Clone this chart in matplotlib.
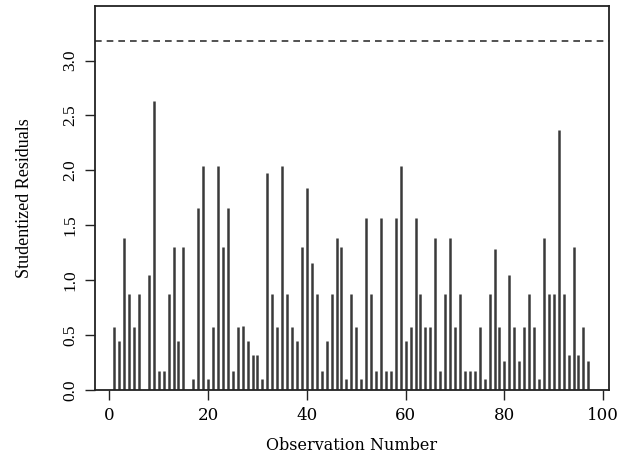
import matplotlib
matplotlib.use("Agg")
import matplotlib.pyplot as plt
import numpy as np

obs = list(range(1, 98))
resid = [0.57, 0.45, 1.38, 0.87, 0.57, 0.87, 0.00, 1.05, 2.63, 0.17,
         0.17, 0.87, 1.30, 0.45, 1.30, 0.00, 0.10, 1.66, 2.04, 0.10,
         0.57, 2.04, 1.30, 1.66, 0.17, 0.57, 0.58, 0.45, 0.32, 0.32,
         0.10, 1.98, 0.87, 0.57, 2.04, 0.87, 0.57, 0.45, 1.30, 1.84,
         1.16, 0.87, 0.17, 0.45, 0.87, 1.38, 1.30, 0.10, 0.87, 0.57,
         0.10, 1.57, 0.87, 0.17, 1.57, 0.17, 0.17, 1.57, 2.04, 0.45,
         0.57, 1.57, 0.87, 0.57, 0.57, 1.38, 0.17, 0.87, 1.38, 0.57,
         0.87, 0.17, 0.17, 0.17, 0.57, 0.10, 0.87, 1.28, 0.57, 0.26,
         1.05, 0.57, 0.26, 0.57, 0.87, 0.57, 0.10, 1.38, 0.87, 0.87,
         2.37, 0.87, 0.32, 1.30, 0.32, 0.57, 0.26]
cutoff = 3.18
xticks = [0, 20, 40, 60, 80, 100]
yticks = [0.0, 0.5, 1.0, 1.5, 2.0, 2.5, 3.0]

fig = plt.figure(figsize=(6.19, 4.62), dpi=100)
ax = fig.add_axes([0.1535, 0.156, 0.8305, 0.8317])

ax.vlines(obs, 0, resid, colors="#3a3a3a", linewidth=1.8)
ax.axhline(cutoff, color="#333333", linestyle=(0, (4, 3)), linewidth=1.2)

ax.set_xlim(-2.9, 101.2)
ax.set_ylim(0, 3.5)

ax.set_xticks(xticks)
ax.set_xticklabels([str(t) for t in xticks], fontfamily="DejaVu Serif", fontsize=12)
ax.set_yticks(yticks)
ax.set_yticklabels([f"{t:.1f}" for t in yticks], fontfamily="Liberation Serif",
                   fontsize=12.5, rotation=90, va="center")
ax.tick_params(axis="both", direction="out", length=7, width=1.0, color="#222222")
ax.tick_params(axis="x", pad=5)
ax.tick_params(axis="y", pad=5)

for s in ax.spines.values():
    s.set_linewidth(1.3)
    s.set_color("#222222")

ax.set_xlabel("Observation Number", fontfamily="DejaVu Serif", fontsize=11.5, labelpad=10)
ax.set_ylabel("Studentized Residuals", fontfamily="Liberation Serif", fontsize=13, labelpad=21)

fig.savefig("out.png", dpi=100)
